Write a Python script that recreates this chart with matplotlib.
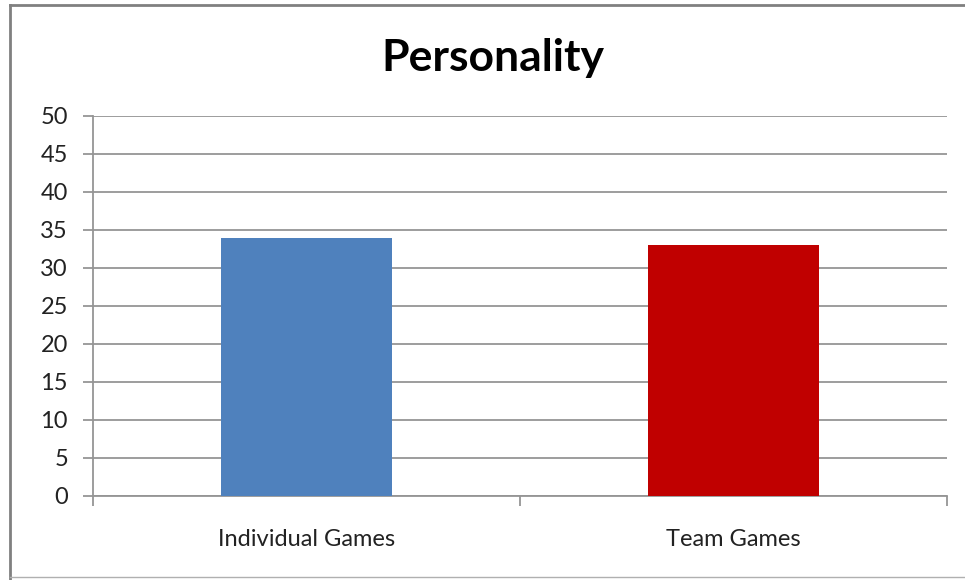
import matplotlib
matplotlib.use("Agg")
import matplotlib.pyplot as plt
from matplotlib.lines import Line2D

categories = ["Individual Games", "Team Games"]
values = [34, 33]
colors = ["#4F81BD", "#C00000"]
yticks = [0, 5, 10, 15, 20, 25, 30, 35, 40, 45, 50]

plt.rcParams['font.family'] = ['Lato', 'DejaVu Sans']

fig = plt.figure(figsize=(9.65, 5.8), dpi=100)
W, H = 965, 580
ax = fig.add_axes([93 / W, 1 - 496 / H, (947 - 93) / W, (496 - 116) / H])

x = list(range(len(categories)))
ax.bar(x, values, width=0.4, color=colors, zorder=3)
ax.set_xlim(-0.5, len(categories) - 0.5)
ax.set_ylim(0, 50)
ax.set_yticks(yticks)
ax.set_yticklabels([str(v) for v in yticks], fontsize=17, color="#222222")
ax.yaxis.grid(True, color="#959595", linewidth=1.3, zorder=0)
ax.set_xticks(x)
ax.set_xticklabels(categories, fontsize=17, color="#222222")
ax.tick_params(axis='x', length=0, pad=24)
ax.tick_params(axis='y', length=7, color="#959595", width=1.3, pad=11)
# category boundary ticks
ax.set_xticks([-0.5, 0.5, 1.5], minor=True)
ax.tick_params(axis='x', which='minor', length=7, color="#959595", width=1.3)
for s in ['top', 'right']:
    ax.spines[s].set_visible(False)
for s in ['left', 'bottom']:
    ax.spines[s].set_color("#959595")
    ax.spines[s].set_linewidth(1.3)

fig.text(493 / W, 1 - 58 / H, "Personality", ha='center', va='center',
         fontsize=32, fontweight='bold', color="black")

# outer frame
fig.add_artist(Line2D([10 / W, 10 / W], [0, 1 - 5 / H], transform=fig.transFigure, color="#808080", linewidth=2))
fig.add_artist(Line2D([10 / W, 1], [1 - 5 / H, 1 - 5 / H], transform=fig.transFigure, color="#808080", linewidth=2))
fig.add_artist(Line2D([10 / W, 1], [1 - 577 / H, 1 - 577 / H], transform=fig.transFigure, color="#b0b0b0", linewidth=1))

fig.savefig("out.png", dpi=100)
